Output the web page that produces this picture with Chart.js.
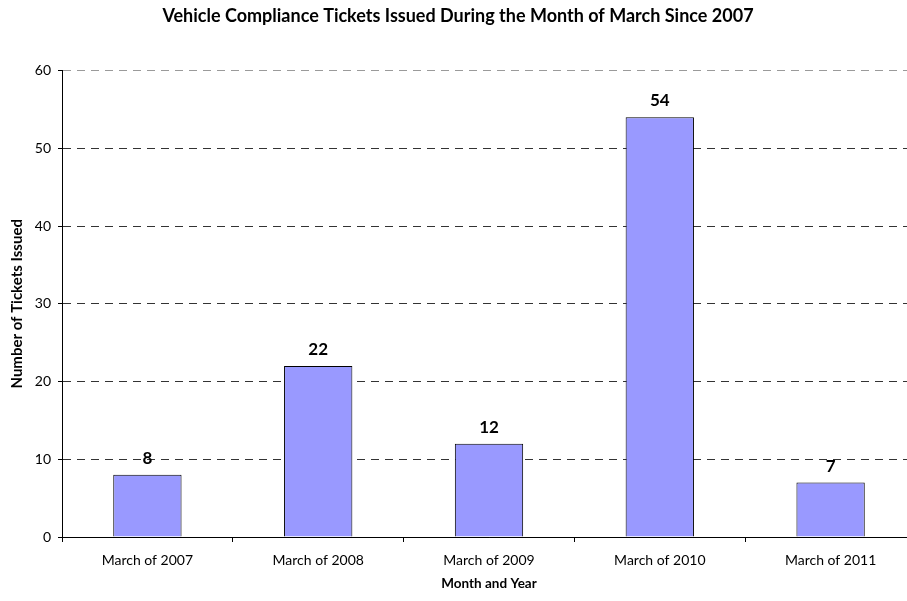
<!DOCTYPE html>
<html>
<head>
<meta charset="utf-8">
<script src="https://cdn.jsdelivr.net/npm/chart.js@4"></script>
<style>
  html, body { margin: 0; padding: 0; background: #fff; width: 907px; height: 601px; overflow: hidden; }
  /* the plot area runs a little past the right edge in the original, so the canvas is wider than the window */
  #wrap { width: 916px; height: 601px; position: relative; }
</style>
</head>
<body>
<div id="wrap"><canvas id="ticketChart"></canvas></div>
<script>
// data
const categories = ['March of 2007', 'March of 2008', 'March of 2009', 'March of 2010', 'March of 2011'];
const ticketCounts = [8, 22, 12, 54, 7];
const yTicks = [0, 10, 20, 30, 40, 50, 60];

const FONT = 'Lato, "Open Sans", sans-serif';

// draws the bold value above each bar
const valueLabels = {
    id: 'valueLabels',
    afterDatasetsDraw(chart) {
        const ctx = chart.ctx;
        const meta = chart.getDatasetMeta(0);
        ctx.save();
        ctx.font = 'bold 17px ' + FONT;
        ctx.fillStyle = '#000';
        ctx.textAlign = 'center';
        ctx.textBaseline = 'alphabetic';
        meta.data.forEach((bar, i) => {
            ctx.fillText(String(ticketCounts[i]), bar.x, bar.y - 11);
        });
        ctx.restore();
    }
};

new Chart(document.getElementById('ticketChart'), {
    type: 'bar',
    data: {
        labels: categories,
        datasets: [{
            data: ticketCounts,
            backgroundColor: '#9999FF',
            borderColor: '#000',
            borderWidth: 1,
            categoryPercentage: 1,
            barPercentage: 0.4
        }]
    },
    options: {
        responsive: true,
        maintainAspectRatio: false,
        animation: false,
        layout: { padding: 0 },
        plugins: {
            legend: { display: false },
            tooltip: { enabled: false },
            title: {
                display: true,
                text: 'Vehicle Compliance Tickets Issued During the Month of March Since 2007',
                color: '#000',
                font: { family: FONT, size: 18, weight: 'bold', lineHeight: 1.2 },
                padding: { top: 5, bottom: 44 }
            }
        },
        scales: {
            x: {
                grid: { drawOnChartArea: false, drawTicks: true, tickLength: 5, color: '#000', offset: true },
                border: { color: '#000', width: 1 },
                ticks: { color: '#000', font: { family: FONT, size: 14 }, padding: 10, maxRotation: 0 },
                title: {
                    display: true,
                    text: 'Month and Year',
                    color: '#000',
                    font: { family: FONT, size: 13.5, weight: 'bold', lineHeight: 1.2 },
                    padding: { top: 0, bottom: 9 }
                },
                afterFit(scale) { scale.height = 64; }
            },
            y: {
                min: 0,
                max: 60,
                afterBuildTicks(scale) { scale.ticks = yTicks.map(v => ({ value: v })); },
                grid: {
                    color: (c) => c.tick && c.tick.value === 60 ? '#9a9a9a' : '#333',
                    tickColor: '#000',
                    tickLength: 4,
                    lineWidth: 1
                },
                border: { color: '#000', width: 1, dash: [8, 6] },
                ticks: { color: '#000', font: { family: FONT, size: 14 }, padding: 7 },
                title: {
                    display: true,
                    text: 'Number of Tickets Issued',
                    color: '#000',
                    font: { family: FONT, size: 15, weight: 'bold', lineHeight: 1.2 },
                    padding: { top: 8, bottom: 0 }
                },
                afterFit(scale) { scale.width = 62; }
            }
        }
    },
    plugins: [valueLabels]
});
</script>
</body>
</html>
